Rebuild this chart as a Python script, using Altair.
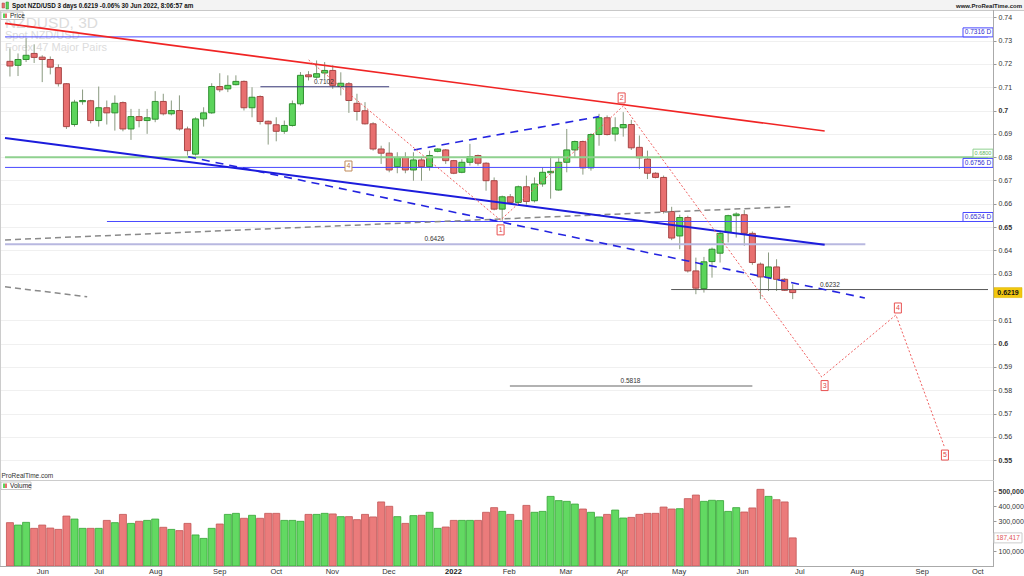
import altair as alt
import pandas as pd

FONT = "Liberation Sans"

# ---------------- candle data (3-day bars, NZD/USD) ----------------
opens = [
    0.7211, 0.7194, 0.7219, 0.7245, 0.7229, 0.7219, 0.7184, 0.7115, 0.6940, 0.7038,
    0.7042, 0.6957, 0.7012, 0.6990, 0.7034, 0.6921, 0.6974, 0.6957, 0.6963, 0.7039,
    0.6986, 0.7000, 0.6921, 0.6813, 0.6964, 0.6990, 0.7103, 0.7093, 0.7111, 0.7125,
    0.7012, 0.7060, 0.6954, 0.6939, 0.6911, 0.6936, 0.7029, 0.7153, 0.7143, 0.7161,
    0.7172, 0.7103, 0.7115, 0.7031, 0.6999, 0.6943, 0.6835, 0.6817, 0.6759, 0.6799,
    0.6745, 0.6788, 0.6759, 0.6825, 0.6831, 0.6785, 0.6735, 0.6778, 0.6807, 0.6774,
    0.6699, 0.6577, 0.6630, 0.6606, 0.6673, 0.6613, 0.6685, 0.6733, 0.6659, 0.6778,
    0.6831, 0.6867, 0.6754, 0.6897, 0.6969, 0.6899, 0.6926, 0.6940, 0.6842, 0.6792,
    0.6731, 0.6713, 0.6567, 0.6462, 0.6541, 0.6312, 0.6236, 0.6352, 0.6388, 0.6477,
    0.6549, 0.6553, 0.6473, 0.6341, 0.6283, 0.6329, 0.6276, 0.6232]
highs = [
    0.7267, 0.7245, 0.7310, 0.7284, 0.7237, 0.7232, 0.7198, 0.7118, 0.7046, 0.7090,
    0.7046, 0.7103, 0.7043, 0.7065, 0.7039, 0.7007, 0.7007, 0.7007, 0.7083, 0.7072,
    0.7043, 0.7065, 0.6931, 0.6971, 0.7014, 0.7117, 0.7160, 0.7151, 0.7151, 0.7129,
    0.7100, 0.7065, 0.6957, 0.6971, 0.6957, 0.7043, 0.7165, 0.7169, 0.7215, 0.7208,
    0.7194, 0.7164, 0.7122, 0.7072, 0.7036, 0.6950, 0.6849, 0.6864, 0.6821, 0.6821,
    0.6821, 0.6799, 0.6828, 0.6838, 0.6835, 0.6788, 0.6791, 0.6857, 0.6811, 0.6778,
    0.6713, 0.6635, 0.6642, 0.6678, 0.6721, 0.6713, 0.6756, 0.6802, 0.6802, 0.6921,
    0.6871, 0.6871, 0.6902, 0.6986, 0.6979, 0.6971, 0.6993, 0.6960, 0.6893, 0.6828,
    0.6735, 0.6721, 0.6587, 0.6553, 0.6549, 0.6369, 0.6372, 0.6412, 0.6484, 0.6553,
    0.6563, 0.6573, 0.6481, 0.6348, 0.6391, 0.6362, 0.6281, 0.6255]
lows = [
    0.7146, 0.7148, 0.7208, 0.7204, 0.7122, 0.7155, 0.7103, 0.6921, 0.6931, 0.7025,
    0.6945, 0.6931, 0.6940, 0.6914, 0.6911, 0.6874, 0.6928, 0.6900, 0.6950, 0.6979,
    0.6979, 0.6914, 0.6807, 0.6807, 0.6931, 0.6986, 0.7079, 0.7079, 0.7108, 0.7000,
    0.6971, 0.6940, 0.6854, 0.6868, 0.6900, 0.6931, 0.7022, 0.7129, 0.7136, 0.7136,
    0.7093, 0.7065, 0.6990, 0.6957, 0.6940, 0.6828, 0.6771, 0.6735, 0.6731, 0.6731,
    0.6699, 0.6699, 0.6742, 0.6821, 0.6771, 0.6727, 0.6731, 0.6764, 0.6764, 0.6656,
    0.6572, 0.6527, 0.6599, 0.6592, 0.6596, 0.6606, 0.6673, 0.6622, 0.6656, 0.6735,
    0.6799, 0.6725, 0.6742, 0.6849, 0.6893, 0.6868, 0.6888, 0.6831, 0.6749, 0.6706,
    0.6709, 0.6558, 0.6444, 0.6405, 0.6305, 0.6212, 0.6219, 0.6283, 0.6348, 0.6434,
    0.6455, 0.6420, 0.6338, 0.6191, 0.6226, 0.6226, 0.6226, 0.6191]
closes = [
    0.7191, 0.7219, 0.7237, 0.7228, 0.7219, 0.7186, 0.7115, 0.6931, 0.7036, 0.7043,
    0.6957, 0.7012, 0.6990, 0.7031, 0.6921, 0.6974, 0.6957, 0.6969, 0.7039, 0.6986,
    0.7000, 0.6921, 0.6828, 0.6964, 0.6990, 0.7103, 0.7089, 0.7108, 0.7125, 0.7012,
    0.7057, 0.6953, 0.6943, 0.6911, 0.6936, 0.7029, 0.7151, 0.7145, 0.7158, 0.7172,
    0.7108, 0.7117, 0.7043, 0.6996, 0.6943, 0.6835, 0.6817, 0.6745, 0.6799, 0.6745,
    0.6788, 0.6759, 0.6807, 0.6835, 0.6785, 0.6731, 0.6778, 0.6802, 0.6774, 0.6699,
    0.6577, 0.6630, 0.6606, 0.6673, 0.6610, 0.6685, 0.6735, 0.6739, 0.6778, 0.6831,
    0.6867, 0.6754, 0.6897, 0.6969, 0.6897, 0.6926, 0.6940, 0.6840, 0.6797, 0.6731,
    0.6713, 0.6567, 0.6453, 0.6541, 0.6312, 0.6238, 0.6351, 0.6405, 0.6473, 0.6549,
    0.6556, 0.6473, 0.6348, 0.6286, 0.6329, 0.6276, 0.6229, 0.6219]
volumes = [
    289000, 273000, 291000, 251000, 273000, 253000, 244000, 333000, 313000, 251000,
    251000, 251000, 304000, 289000, 344000, 284000, 298000, 304000, 313000, 258000,
    244000, 236000, 284000, 207000, 184000, 251000, 280000, 344000, 351000, 318000,
    338000, 318000, 351000, 351000, 304000, 304000, 298000, 344000, 344000, 351000,
    347000, 329000, 329000, 309000, 344000, 327000, 427000, 398000, 329000, 284000,
    336000, 338000, 358000, 251000, 260000, 304000, 304000, 304000, 304000, 358000,
    389000, 364000, 344000, 304000, 404000, 358000, 364000, 464000, 436000, 431000,
    413000, 380000, 358000, 327000, 344000, 373000, 320000, 324000, 344000, 351000,
    351000, 393000, 380000, 382000, 449000, 473000, 431000, 438000, 436000, 364000,
    389000, 360000, 387000, 511000, 464000, 442000, 427000, 187417]

# month labels placed at bar-index positions
month_pos = [4.08, 11.04, 18.07, 26.0, 33.0, 39.95, 46.95, 54.96, 61.86, 68.9,
             75.93, 82.93, 90.78, 97.89, 105.0, 113.04, 119.93]
month_lab = ["Jun", "Jul", "Aug", "Sep", "Oct", "Nov", "Dec", "2022", "Feb", "Mar",
             "Apr", "May", "Jun", "Jul", "Aug", "Sep", "Oct"]
price_ticks = [0.74, 0.73, 0.72, 0.71, 0.7, 0.69, 0.68, 0.67, 0.66, 0.65, 0.64, 0.63,
               0.61, 0.6, 0.59, 0.58, 0.57, 0.56, 0.55]
vol_ticks = [100000, 300000, 400000, 500000]

# drawn trendlines (bar index, price)
red_line = {"x1": [-0.61], "p1": [0.7374], "x2": [100.96], "p2": [0.6912]}
blue_line = {"x1": [-0.61], "p1": [0.6882], "x2": [100.96], "p2": [0.6424]}
blue_dash = {"x1": [22.08, 50.05], "p1": [0.6802, 0.6831], "x2": [105.94, 72.99], "p2": [0.6196, 0.6974]}
gray_dash = {"x1": [-0.61, -0.61], "p1": [0.6445, 0.6244], "x2": [97.15, 9.57], "p2": [0.6588, 0.6201]}

# horizontal levels
blue_levels = {"p": [0.7316, 0.6756, 0.6524], "s": [-0.61, -0.61, 12.02], "e": [121.2, 121.2, 121.2]}
green_levels = {"p": [0.6800], "s": [-0.61], "e": [121.2]}
pale_levels = {"p": [0.6426], "s": [-0.61], "e": [106.0]}
navy_levels = {"p": [0.7102], "s": [31.04], "e": [46.99]}
dark_levels = {"p": [0.6232], "s": [81.94], "e": [121.2]}
gray_levels = {"p": [0.5818], "s": [61.95], "e": [92.0]}
level_text = {"i": [38.9, 52.6, 101.6, 76.9], "p": [0.7102, 0.6426, 0.6232, 0.5818],
              "t": ["0.7102", "0.6426", "0.6232", "0.5818"]}

# Elliott wave projection
wave_i = [37.01, 60.79, 76.02, 100.59, 109.79, 115.8]
wave_p = [0.7217, 0.6530, 0.7020, 0.5857, 0.6123, 0.5557]
wave_lab = ["1", "2", "3", "4", "5"]
wave_lab_i = [60.8, 75.8, 100.95, 110.03, 115.86]
wave_lab_p = [0.6488, 0.7054, 0.5820, 0.6153, 0.5522]
old_lab = {"i": [41.95], "p": [0.6762], "t": ["4"]}

tags_blue = {"p": [0.7316, 0.6756, 0.6524], "t": ["0.7316 D", "0.6756 D", "0.6524 D"]}
tags_green = {"p": [0.6800], "t": ["0.6800"]}
last_price = {"p": [0.6219], "t": ["0.6219"]}
last_volume = {"v": [187417], "t": ["187,417"]}

# ---------------- scales ----------------
XS = alt.Scale(domain=[-0.613, 121.2], nice=False, zero=False)
PS = alt.Scale(domain=[0.54536, 0.74313], range=[461, 0], nice=False, zero=False)
VS = alt.Scale(domain=[0, 566667], range=[556, 471], nice=False, zero=False)

GREEN_FILL, GREEN_LINE = "#5bd45b", "#2f8f2f"
RED_FILL, RED_LINE = "#e86f6f", "#a84646"
WICK = "#8a9a80"
BLUE = "#4848ff"

bars = pd.DataFrame({"i": list(range(len(opens))), "open": opens, "high": highs,
                     "low": lows, "close": closes, "volume": volumes})
one = pd.DataFrame({"k": [0]})
UP = "datum.close >= datum.open"


def X(f="i"):
    return alt.X(f"{f}:Q", scale=XS, axis=None)


def PY(f, axis=None):
    return alt.Y(f"{f}:Q", scale=PS, axis=axis)


def txt(t, x, y, size=7, color="#333", weight="normal", align="left", baseline="middle"):
    return alt.Chart(one).mark_text(text=t, fontSize=size, color=color, fontWeight=weight,
                                    align=align, baseline=baseline, font=FONT).encode(
        x=alt.value(x), y=alt.value(y))


def box(x1, x2, y1, y2, fill, stroke=None, sw=1):
    kw = {"fill": fill}
    if stroke:
        kw["stroke"] = stroke
        kw["strokeWidth"] = sw
    return alt.Chart(one).mark_rect(**kw).encode(
        x=alt.value(x1), x2=alt.value(x2), y=alt.value(y1), y2=alt.value(y2))


def hline(x1, x2, y, color, sw=1):
    return alt.Chart(one).mark_rule(color=color, strokeWidth=sw).encode(
        x=alt.value(x1), x2=alt.value(x2), y=alt.value(y))


def vline(x, y1, y2, color, sw=1):
    return alt.Chart(one).mark_rule(color=color, strokeWidth=sw).encode(
        x=alt.value(x), y=alt.value(y1), y2=alt.value(y2))


price_axis = alt.Axis(
    orient="right", values=price_ticks, format=".2~f", title=None, grid=True,
    gridColor="#f0f0f0", domain=False, tickSize=3, tickColor="#999999", labelFontSize=7,
    labelPadding=2, labelColor="#333333", labelFont=FONT, labelOverlap=False,
    labelFontWeight={"condition": {"test": "datum.value == 0.7 || datum.value == 0.65 || datum.value == 0.6 || datum.value == 0.55",
                                   "value": "bold"}, "value": "normal"})

vol_axis = alt.Axis(
    orient="right", values=vol_ticks, format=",.0f", title=None, grid=False, domain=False,
    tickSize=3, tickColor="#999999", labelFontSize=7, labelPadding=2, labelColor="#333333",
    labelFont=FONT, labelOverlap=False,
    labelFontWeight={"condition": {"test": "datum.value == 500000", "value": "bold"}, "value": "normal"})

layers = []

# header bar
layers.append(box(0, 1024, -10, 0, "#f3f3f3"))
layers.append(hline(0, 1024, 0.5, "#c8c8c8"))
layers.append(box(2, 4.5, -7, -2, RED_FILL, RED_LINE, 0.5))
layers.append(box(6, 8.5, -8, -1, GREEN_FILL, GREEN_LINE, 0.5))
layers.append(txt("Spot NZD/USD 3 days 0.6219 -0.06% 30 Jun 2022, 8:06:57 am", 12, -4.5, 6.3, "#111", "bold"))
layers.append(txt("www.ProRealTime.com", 1022, -4.5, 6, "#222", "bold", align="right"))

# watermark
layers.append(txt("NZDUSD, 3D", 5, 13, 15.5, "#dcdcdc"))
layers.append(txt("Spot NZD/USD", 5, 26, 11, "#dcdcdc"))
layers.append(txt("Forex 47 Major Pairs", 5, 37.5, 11, "#dcdcdc"))

# candles: wicks (carry the price axis) and bodies
layers.append(alt.Chart(bars).mark_rule(color=WICK, strokeWidth=1).encode(
    x=X(), y=PY("low", price_axis), y2="high:Q"))
layers.append(alt.Chart(bars).mark_bar(size=6, strokeWidth=1).encode(
    x=X(), y=PY("open"), y2="close:Q",
    fill=alt.condition(UP, alt.value(GREEN_FILL), alt.value(RED_FILL)),
    stroke=alt.condition(UP, alt.value(GREEN_LINE), alt.value(RED_LINE))))

# volume bars (carry the volume axis)
layers.append(alt.Chart(bars).mark_bar(size=7, strokeWidth=0.8).encode(
    x=X(), y=alt.Y("volume:Q", scale=VS, axis=vol_axis), y2=alt.Y2Datum(0),
    fill=alt.condition(UP, alt.value("#62d962"), alt.value("#eb7b7b")),
    stroke=alt.condition(UP, alt.value("#35a535"), alt.value("#c25555"))))

# time axis: baseline and month labels placed through the x scale
layers.append(hline(0, 994, 556.5, "#aaaaaa"))
months = pd.DataFrame({"i": month_pos, "t": month_lab})
layers.append(alt.Chart(months[months.t != "2022"]).mark_text(
    fontSize=7.5, color="#333333", font=FONT, baseline="middle").encode(
    x=X(), y=alt.value(561.5), text="t:N"))
layers.append(alt.Chart(months[months.t == "2022"]).mark_text(
    fontSize=7.5, color="#222222", font=FONT, fontWeight="bold", baseline="middle").encode(
    x=X(), y=alt.value(561.5), text="t:N"))


def levels(d, color, sw):
    return alt.Chart(pd.DataFrame(d)).mark_rule(color=color, strokeWidth=sw).encode(
        x=X("s"), x2="e:Q", y=PY("p"))


layers.append(levels(pale_levels, "#b8b8e0", 2))
layers.append(levels(green_levels, "#8fd18f", 2))
layers.append(levels(blue_levels, BLUE, 1))
layers.append(levels(navy_levels, "#3b3b7a", 1))
layers.append(levels(dark_levels, "#555555", 1))
layers.append(levels(gray_levels, "#999999", 1.5))


def seg(d, color, sw, dash=None):
    kw = {"color": color, "strokeWidth": sw}
    if dash:
        kw["strokeDash"] = dash
    return alt.Chart(pd.DataFrame(d)).mark_rule(**kw).encode(
        x=X("x1"), x2="x2:Q", y=PY("p1"), y2="p2:Q")


layers.append(seg(gray_dash, "#8a8a8a", 1.5, [6, 4]))
layers.append(seg(blue_dash, "#2424e0", 1.6, [8, 6]))
layers.append(seg(blue_line, "#1c1cdc", 2))
layers.append(seg(red_line, "#f02424", 1.6))

# wave projection path
layers.append(alt.Chart(pd.DataFrame({"i": wave_i, "p": wave_p, "o": list(range(len(wave_i)))}))
              .mark_line(color="#f06060", strokeWidth=1, strokeDash=[2, 2]).encode(
    x=X(), y=PY("p"), order="o:Q"))

# level text
layers.append(alt.Chart(pd.DataFrame(level_text)).mark_text(
    dy=-5, fontSize=6.5, color="#333", font=FONT).encode(x=X(), y=PY("p"), text="t:N"))

BOX = "M-0.7,-1L0.7,-1L0.7,1L-0.7,1Z"
wl = pd.DataFrame({"i": wave_lab_i, "p": wave_lab_p, "t": wave_lab})
layers.append(alt.Chart(wl).mark_point(shape=BOX, size=100, filled=True, fill="white",
                                       stroke="#e85050", strokeWidth=1, opacity=1).encode(x=X(), y=PY("p")))
layers.append(alt.Chart(wl).mark_text(fontSize=7, color="#e04848", font=FONT).encode(
    x=X(), y=PY("p"), text="t:N"))
ol = pd.DataFrame(old_lab)
layers.append(alt.Chart(ol).mark_point(shape=BOX, size=100, filled=True, fill="white",
                                       stroke="#c08a5a", strokeWidth=1, opacity=1).encode(x=X(), y=PY("p")))
layers.append(alt.Chart(ol).mark_text(fontSize=7, color="#b87840", font=FONT).encode(
    x=X(), y=PY("p"), text="t:N"))

# right-hand level tags
WIDE = "M-1.5,-0.9L1.5,-0.9L1.5,0L-1.5,0Z"
tb = pd.DataFrame(tags_blue)
layers.append(alt.Chart(tb).mark_point(shape=WIDE, size=400, filled=True, fill="white",
                                       stroke=BLUE, strokeWidth=1, opacity=1).encode(
    x=alt.value(978), y=PY("p")))
layers.append(alt.Chart(tb).mark_text(dy=-4.5, fontSize=6.5, color="#3030d0", font=FONT).encode(
    x=alt.value(978), y=PY("p"), text="t:N"))
SMALL = "M-1,-0.8L1,-0.8L1,0L-1,0Z"
tg = pd.DataFrame(tags_green)
layers.append(alt.Chart(tg).mark_point(shape=SMALL, size=400, filled=True, fill="white",
                                       stroke="#8fd18f", strokeWidth=1, opacity=1).encode(
    x=alt.value(983), y=PY("p")))
layers.append(alt.Chart(tg).mark_text(dy=-4, fontSize=5.5, color="#5ab55a", font=FONT).encode(
    x=alt.value(983), y=PY("p"), text="t:N"))

# borders
layers.append(vline(0.5, 0, 556, "#cccccc"))
layers.append(vline(993.5, 0, 556, "#aaaaaa"))

# last price tag
CEN = "M-1.4,-0.5L1.4,-0.5L1.4,0.5L-1.4,0.5Z"
lp = pd.DataFrame(last_price)
layers.append(alt.Chart(lp).mark_point(shape=CEN, size=400, filled=True, fill="#f2c80f",
                                       stroke="#d9b000", strokeWidth=0.5, opacity=1).encode(
    x=alt.value(1008), y=PY("p")))
layers.append(alt.Chart(lp).mark_text(fontSize=7, fontWeight="bold", color="#111", font=FONT).encode(
    x=alt.value(1008), y=PY("p"), text="t:N"))

# price legend box
layers.append(box(1, 23, 2, 9.5, "white", "#bbbbbb", 0.8))
layers.append(box(3, 5, 3.5, 8, GREEN_FILL))
layers.append(box(5, 7, 3.5, 8, RED_FILL))
layers.append(txt("Price", 10, 5.8, 6.5, "#222"))

# volume panel decorations
layers.append(txt("ProRealTime.com", 1.5, 466, 6.5, "#333"))
layers.append(hline(0, 994, 470.5, "#cccccc"))
layers.append(box(1, 31, 472, 479.5, "white", "#bbbbbb", 0.8))
layers.append(box(3, 5, 473.5, 478, GREEN_FILL))
layers.append(box(5, 7, 473.5, 478, RED_FILL))
layers.append(txt("Volume", 10, 475.8, 6.5, "#222"))

lv = pd.DataFrame(last_volume)
layers.append(alt.Chart(lv).mark_point(shape=CEN, size=400, filled=True, fill="white",
                                       stroke="#cccccc", strokeWidth=1, opacity=1).encode(
    x=alt.value(1008), y=alt.Y("v:Q", scale=VS, axis=None)))
layers.append(alt.Chart(lv).mark_text(fontSize=6.5, color="#e05555", font=FONT).encode(
    x=alt.value(1008), y=alt.Y("v:Q", scale=VS, axis=None), text="t:N"))

chart = alt.layer(*layers).resolve_scale(y="independent").properties(
    width=993, height=556, autosize="none",
    padding={"left": 0, "top": 10, "right": 31, "bottom": 10},
    background="white",
).configure_view(stroke=None).configure(font=FONT)

chart.save("out.html", embed_options={"renderer": "svg", "actions": False})
